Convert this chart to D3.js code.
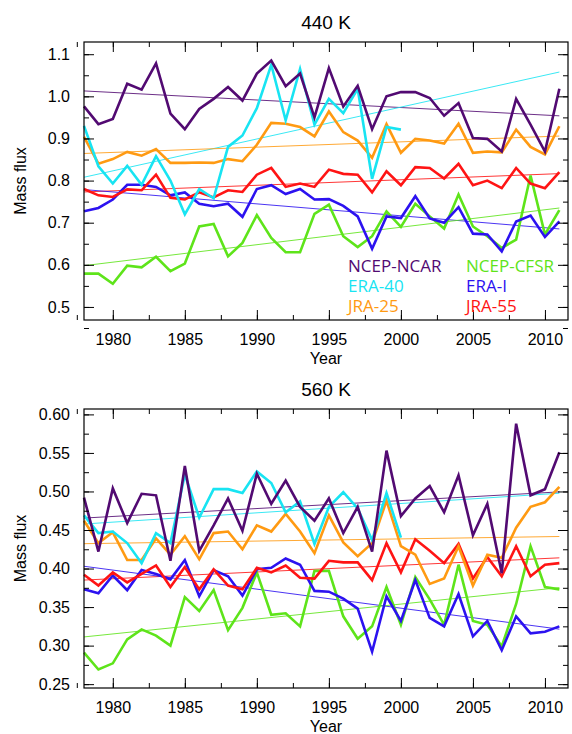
<!DOCTYPE html>
<html><head><meta charset="utf-8">
<script src="https://cdn.jsdelivr.net/npm/d3@7"></script>
<style>
body{margin:0;background:#fff;}
text{font-family:"Liberation Sans",Arial,sans-serif;}
</style></head><body>
<script>
var years = d3.range(1978, 2012);
var years40 = d3.range(1978, 2001);
var seriesNames = ["NCEP-NCAR","ERA-40","JRA-25","JRA-55","ERA-I","NCEP-CFSR"];
var seriesColors = ["#520a72","#18e4f2","#ff9a12","#ff1414","#2c12f0","#5ee41a"];

// 440 K
var ncepNcar440 = [0.976,0.934,0.946,1.03,1.016,1.078,0.959,0.922,0.97,0.994,1.022,0.99,1.054,1.085,1.024,1.054,0.95,1.067,0.976,1.025,0.922,1.0,1.01,1.01,0.996,0.954,0.984,0.901,0.899,0.869,0.994,0.933,0.869,1.018];
var era40_440 = [0.93,0.834,0.793,0.835,0.79,0.858,0.80,0.72,0.78,0.758,0.88,0.907,0.972,1.075,0.943,1.065,0.933,0.994,0.96,1.018,0.804,0.927,0.921];
var jra25_440 = [0.904,0.84,0.851,0.868,0.859,0.875,0.842,0.842,0.843,0.842,0.851,0.846,0.885,0.937,0.935,0.927,0.905,0.964,0.915,0.895,0.854,0.934,0.866,0.899,0.895,0.888,0.935,0.866,0.869,0.867,0.921,0.88,0.862,0.929];
var jra55_440 = [0.78,0.765,0.761,0.779,0.777,0.814,0.759,0.755,0.772,0.76,0.777,0.773,0.814,0.83,0.785,0.793,0.785,0.826,0.816,0.814,0.772,0.822,0.789,0.832,0.83,0.805,0.84,0.789,0.80,0.782,0.83,0.793,0.782,0.82];
var eraI_440 = [0.727,0.735,0.755,0.79,0.79,0.785,0.765,0.772,0.745,0.739,0.745,0.714,0.78,0.789,0.768,0.78,0.755,0.756,0.74,0.715,0.638,0.715,0.711,0.763,0.71,0.70,0.737,0.674,0.672,0.632,0.703,0.717,0.666,0.703];
var cfsr440 = [0.579,0.579,0.555,0.598,0.594,0.619,0.585,0.603,0.691,0.697,0.62,0.652,0.718,0.664,0.63,0.63,0.721,0.743,0.668,0.642,0.668,0.727,0.69,0.745,0.715,0.686,0.767,0.691,0.668,0.64,0.66,0.812,0.672,0.73];

// 560 K
var ncepNcar560 = [0.492,0.422,0.504,0.459,0.497,0.495,0.41,0.533,0.423,0.456,0.491,0.449,0.523,0.484,0.514,0.48,0.462,0.491,0.446,0.48,0.422,0.553,0.468,0.491,0.507,0.473,0.521,0.443,0.484,0.394,0.588,0.495,0.503,0.551];
var era40_560 = [0.469,0.446,0.448,0.433,0.407,0.446,0.433,0.522,0.466,0.503,0.503,0.498,0.526,0.511,0.473,0.487,0.432,0.48,0.499,0.478,0.437,0.498,0.44];
var jra25_560 = [0.462,0.433,0.447,0.411,0.411,0.439,0.418,0.442,0.412,0.446,0.448,0.425,0.456,0.448,0.471,0.448,0.42,0.469,0.434,0.416,0.433,0.488,0.429,0.418,0.38,0.387,0.429,0.378,0.418,0.414,0.453,0.48,0.486,0.506];
var jra55_560 = [0.392,0.378,0.395,0.382,0.393,0.404,0.376,0.402,0.373,0.399,0.378,0.373,0.401,0.395,0.404,0.388,0.387,0.41,0.408,0.408,0.385,0.433,0.395,0.438,0.423,0.407,0.432,0.387,0.415,0.39,0.429,0.39,0.405,0.407];
var eraI_560 = [0.373,0.368,0.391,0.372,0.398,0.393,0.386,0.411,0.364,0.398,0.39,0.365,0.399,0.401,0.413,0.405,0.371,0.37,0.361,0.348,0.292,0.364,0.332,0.385,0.336,0.325,0.367,0.312,0.332,0.294,0.338,0.316,0.318,0.325];
var cfsr560 = [0.291,0.269,0.277,0.308,0.321,0.313,0.30,0.363,0.345,0.372,0.32,0.349,0.395,0.34,0.342,0.325,0.397,0.397,0.338,0.309,0.325,0.376,0.327,0.389,0.36,0.327,0.405,0.332,0.327,0.299,0.354,0.429,0.376,0.373];

var xTicks = [1980,1985,1990,1995,2000,2005,2010];
var yTicks440 = [0.5,0.6,0.7,0.8,0.9,1.0,1.1];
var yTicks560 = [0.25,0.30,0.35,0.40,0.45,0.50,0.55,0.60];

var W = 572, H = 734;
var svg = d3.select("body").append("svg").attr("width", W).attr("height", H);

function fit(xs, ys) {
    var mx = d3.mean(xs), my = d3.mean(ys);
    var b = d3.sum(xs, function(x, i){ return (x-mx)*(ys[i]-my); }) / d3.sum(xs, function(x){ return (x-mx)*(x-mx); });
    return function(x){ return my + b*(x-mx); };
}

function panel(opt) {
    var xScale = d3.scaleLinear().domain([1978, 2011.6]).range([84, 568]);
    var yScale = d3.scaleLinear().domain(opt.yDomain).range([opt.bottom, opt.top]);
    var g = svg.append("g");

    var sets = [
        [years, opt.data[0]], [years40, opt.data[1]], [years, opt.data[2]],
        [years, opt.data[3]], [years, opt.data[4]], [years, opt.data[5]]
    ];
    var line = d3.line().x(function(d){ return xScale(d[0]); }).y(function(d){ return yScale(d[1]); });

    // trend lines
    sets.forEach(function(s, i) {
        var f = fit(s[0], s[1]);
        g.append("path").attr("d", line([[1978, f(1978)], [2011, f(2011)]]))
            .attr("stroke", seriesColors[i]).attr("stroke-width", 1).attr("fill", "none").attr("opacity", 0.85);
    });
    // data lines
    [5,4,3,2,1,0].forEach(function(i) {
        var s = sets[i];
        g.append("path").attr("d", line(s[0].map(function(y, k){ return [y, s[1][k]]; })))
            .attr("stroke", seriesColors[i]).attr("stroke-width", 2.6).attr("fill", "none");
    });

    // frame
    g.append("rect").attr("x", 84).attr("y", opt.top).attr("width", 568-84).attr("height", opt.bottom-opt.top)
        .attr("fill", "none").attr("stroke", "#000").attr("stroke-width", 1.2);

    // axes with inward ticks
    var minorX = d3.range(1977.5, 2012, 2.5);
    g.append("g").attr("transform", "translate(0," + opt.bottom + ")")
        .call(d3.axisBottom(xScale).tickValues(minorX).tickSize(-5).tickFormat(""));
    g.append("g").attr("transform", "translate(0," + opt.top + ")")
        .call(d3.axisTop(xScale).tickValues(minorX).tickSize(-5).tickFormat(""));
    g.append("g").attr("transform", "translate(0," + opt.bottom + ")")
        .call(d3.axisBottom(xScale).tickValues(xTicks).tickSize(-10).tickPadding(14).tickFormat(d3.format("d")));
    g.append("g").attr("transform", "translate(0," + opt.top + ")")
        .call(d3.axisTop(xScale).tickValues(xTicks).tickSize(-10).tickFormat(""));

    g.append("g").attr("transform", "translate(84,0)")
        .call(d3.axisLeft(yScale).tickValues(opt.minorY).tickSize(-5).tickFormat(""));
    g.append("g").attr("transform", "translate(568,0)")
        .call(d3.axisRight(yScale).tickValues(opt.minorY).tickSize(-5).tickFormat(""));
    g.append("g").attr("transform", "translate(84,0)")
        .call(d3.axisLeft(yScale).tickValues(opt.yTicks).tickSize(-10).tickPadding(14).tickFormat(d3.format(opt.fmt)));
    g.append("g").attr("transform", "translate(568,0)")
        .call(d3.axisRight(yScale).tickValues(opt.yTicks).tickSize(-10).tickFormat(""));

    g.selectAll(".domain").remove();
    g.selectAll(".tick line").attr("stroke", "#000");
    g.selectAll(".tick text").attr("font-size", 16).attr("fill", "#000")
        .style("font-family", "'Liberation Sans',Arial,sans-serif");

    g.append("text").attr("x", 326).attr("y", opt.top - 13).attr("text-anchor", "middle")
        .attr("font-size", 19).text(opt.title);
    g.append("text").attr("x", 326).attr("y", opt.bottom + 44).attr("text-anchor", "middle")
        .attr("font-size", 16).text("Year");
    g.append("text").attr("transform", "translate(26," + ((opt.top + opt.bottom)/2) + ") rotate(-90)")
        .attr("text-anchor", "middle").attr("font-size", 16).text("Mass flux");
    return g;
}

var topPanel = panel({
    title: "440 K", top: 42, bottom: 320, yDomain: [0.469, 1.129],
    yTicks: yTicks440, minorY: d3.range(0.45, 1.13, 0.05), fmt: ".1f",
    data: [ncepNcar440, era40_440, jra25_440, jra55_440, eraI_440, cfsr440]
});
panel({
    title: "560 K", top: 409, bottom: 688, yDomain: [0.245, 0.607],
    yTicks: yTicks560, minorY: d3.range(0.25, 0.61, 0.025), fmt: ".2f",
    data: [ncepNcar560, era40_560, jra25_560, jra55_560, eraI_560, cfsr560]
});

// legend
var legendCols = [[0,1,2],[5,4,3]];
legendCols.forEach(function(col, c) {
    col.forEach(function(i, r) {
        topPanel.append("text").attr("x", c ? 466 : 348).attr("y", 272 + r*20)
            .attr("font-size", 17).attr("fill", seriesColors[i])
            .style("font-family", "'Open Sans',sans-serif").text(seriesNames[i]);
    });
});
</script>
</body></html>
